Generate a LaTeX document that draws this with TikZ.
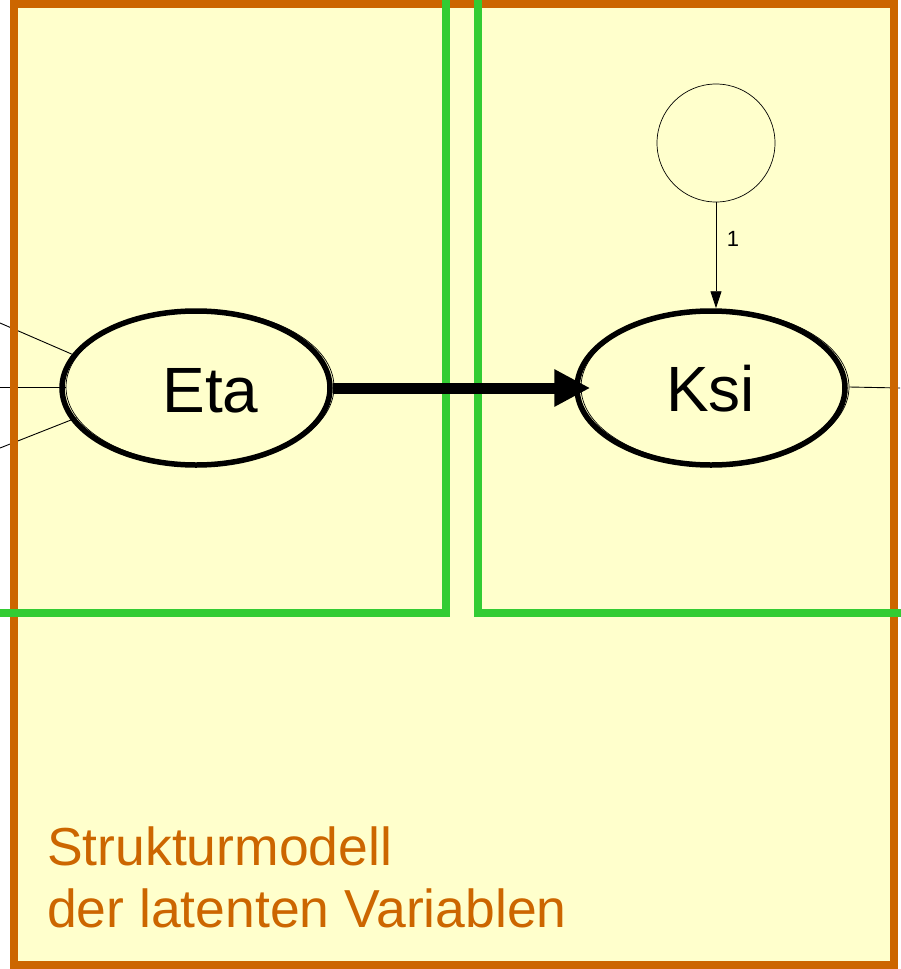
\documentclass[tikz,border=0pt]{standalone}
\usepackage{fontspec}
\setmainfont{Liberation Sans}
\usetikzlibrary{shapes.geometric,arrows.meta}
\definecolor{bgyellow}{HTML}{FFFFCC}
\definecolor{frameorange}{HTML}{CC6600}
\definecolor{boxgreen}{HTML}{33CC33}
\tikzset{
  frame/.style={draw=frameorange,line width=8pt},
  greenbox/.style={draw=boxgreen,line width=8pt,miter limit=10},
  latent/.style={ellipse,draw=black,line width=5.5pt,minimum width=268pt,minimum height=154pt,inner sep=0pt},
  latentthin/.style={ellipse,draw=black,line width=0.7pt,minimum width=268pt,minimum height=154pt,inner sep=0pt},
  errcircle/.style={circle,draw=black,line width=0.7pt,minimum size=118pt,inner sep=0pt},
  thinline/.style={draw=black,line width=0.9pt},
  bigarrow/.style={draw=black,line width=11pt,-{Triangle[length=36pt,width=35pt]}},
  smallarrow/.style={draw=black,line width=0.9pt,-{Triangle[length=17pt,width=11pt]}},
  biglabel/.style={font=\fontsize{64}{76}\selectfont,inner sep=0pt},
  modeltext/.style={font=\fontsize{53.5}{62}\selectfont,text=frameorange,inner sep=0pt,anchor=base west},
}
\begin{document}
\begin{tikzpicture}[x=1pt,y=-1pt]
\useasboundingbox (0,0) rectangle (900,969);
\fill[white] (0,0) rectangle (900,969);
\fill[bgyellow] (14,4) rectangle (894,964.5);
% ellipses (thin copies first)
\node[latentthin] (etaB) at (200,387) {};
\node[latentthin] (ksiB) at (715,387) {};
% connectors to the left and right
\coordinate (l1) at (0,323);
\coordinate (l2) at (0,387);
\coordinate (l3) at (0,448);
\coordinate (r1) at (900,388);
\draw[thinline] (l1) -- (etaB.166);
\draw[thinline] (l2) -- (etaB.west);
\draw[thinline] (l3) -- (etaB.194);
\draw[thinline] (ksiB.east) -- (r1);
% frame
\draw[frame] (14,4) rectangle (894,964.5);
% green boxes
\draw[greenbox] (-10,612.7) -- (446,612.7) -- (446,-10);
\draw[greenbox] (478,-10) -- (478,612.7) -- (910,612.7);
% main ellipses
\node[latent] (eta) at (196,388) {};
\node[latent] (ksi) at (711,388) {};
\node[biglabel,anchor=base] (etatext) at (210.5,412) {Eta};
\node[biglabel,anchor=base] (ksitext) at (710.5,411) {Ksi};
% error circle
\node[errcircle] (err) at (716,143) {};
\draw[smallarrow] (err.south) -- (err.south |- ksi.north);
\node[font=\fontsize{22}{26}\selectfont,inner sep=0pt,anchor=base] (one) at (733,246) {1};
% structural arrow
\draw[bigarrow,shorten >=-16pt] (eta.east) -- (ksi.west);
% texts
\node[modeltext] (t1) at (47,865) {Strukturmodell};
\node[modeltext] (t2) at (47,927) {der latenten Variablen};
\end{tikzpicture}
\end{document}
